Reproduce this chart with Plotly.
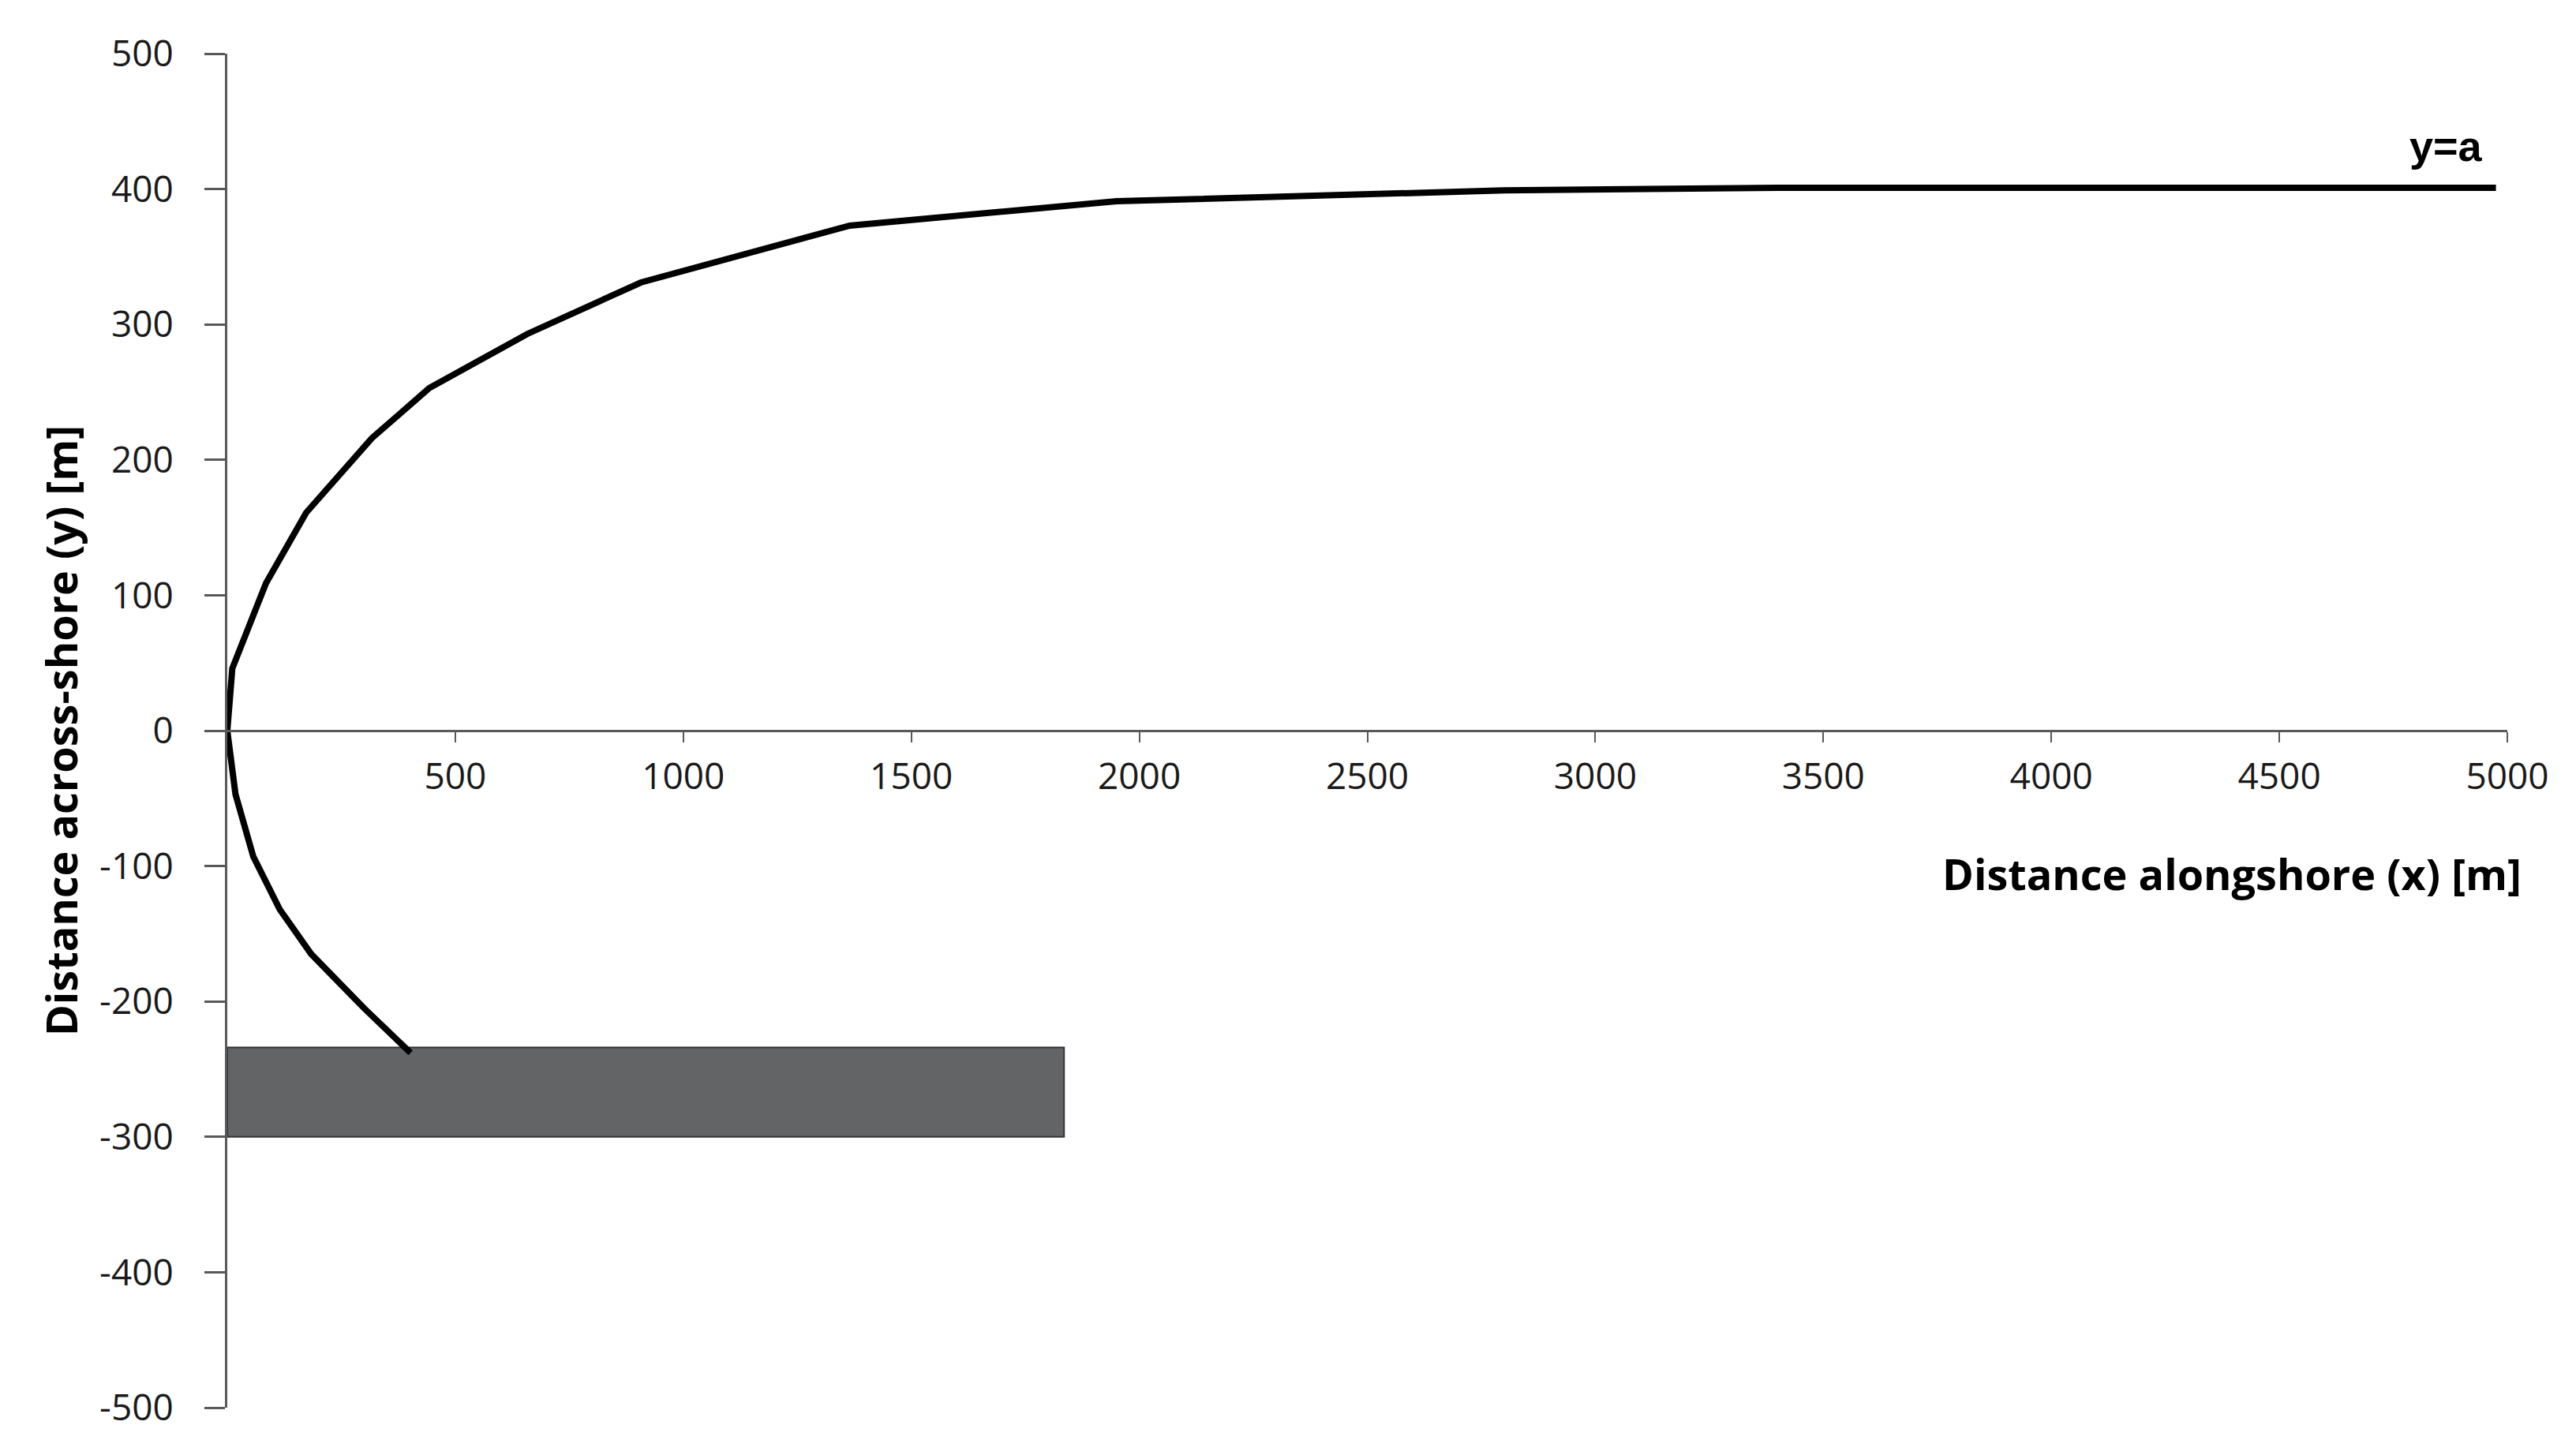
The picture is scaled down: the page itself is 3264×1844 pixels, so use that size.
import plotly.graph_objects as go

# ── data ─────────────────────────────────────────────────────────────────────
# shoreline (lower branch from the structure up to the origin, then the upper branch)
shore_x = [402, 300, 184, 115, 57, 18, 0, 11, 85, 173, 317, 443, 658, 907, 1365, 1950, 2800, 3400, 4975]
shore_y = [-238, -205, -165, -132, -93, -47, 0, 46, 109, 161, 216, 253, 293, 331, 373, 391, 399, 401, 401]

# structure (breakwater) outline
rect_x = [0, 1835, 1835, 0, 0]
rect_y = [-234, -234, -300, -300, -234]

x_ticks = [500, 1000, 1500, 2000, 2500, 3000, 3500, 4000, 4500, 5000]
y_ticks = [500, 400, 300, 200, 100, 0, -100, -200, -300, -400, -500]
y_labels = ["500", "400", "300", "200", "100", "0", "-100", "-200", "-300", "-400", "-500"]

AXIS = "#595959"
TXT = "#1a1a1a"
FONT = "Open Sans"

fig = go.Figure()

fig.add_trace(go.Scatter(
    x=rect_x, y=rect_y, mode="lines", fill="toself",
    fillcolor="#636466", line=dict(color="#333333", width=2),
    hoverinfo="skip", showlegend=False,
))

fig.add_trace(go.Scatter(
    x=shore_x, y=shore_y, mode="lines",
    line=dict(color="black", width=8),
    showlegend=False,
))

fig.add_annotation(
    x=4865, y=432, xref="x", yref="y", text="<b>y=a</b>", showarrow=False,
    font=dict(family="Liberation Sans", size=54, color="black"),
    xanchor="center", yanchor="middle",
)
fig.add_annotation(
    x=1.007, y=0.3945, xref="paper", yref="paper",
    text="<b>Distance alongshore (x) [m]</b>", showarrow=False,
    font=dict(family=FONT, size=54, color="black"),
    xanchor="right", yanchor="middle",
)
fig.add_annotation(
    x=-0.073, y=0.5, xref="paper", yref="paper", textangle=-90,
    text="<b>Distance across-shore (y) [m]</b>", showarrow=False,
    font=dict(family=FONT, size=54, color="black"),
    xanchor="center", yanchor="middle",
)

fig.update_layout(
    width=3264, height=1844,
    paper_bgcolor="white", plot_bgcolor="white",
    margin=dict(l=280, r=95, t=60, b=68),
    font=dict(family=FONT, size=46, color=TXT),
    xaxis=dict(
        range=[0, 5000], tickvals=x_ticks, showgrid=False, zeroline=False,
        showline=True, linecolor=AXIS, linewidth=3,
        ticks="outside", ticklen=13, tickwidth=2, tickcolor=AXIS,
        anchor="free", position=0.5, ticklabelstandoff=4,
        tickfont=dict(family=FONT, size=46, color=TXT),
    ),
    yaxis=dict(
        range=[-500, 500], tickvals=y_ticks, ticktext=y_labels,
        showgrid=False, zeroline=False,
        showline=True, linecolor=AXIS, linewidth=3,
        ticks="outside", ticklen=26, tickwidth=3, tickcolor=AXIS,
        ticklabelstandoff=30,
        tickfont=dict(family=FONT, size=46, color=TXT),
    ),
)

fig.write_html("out.html")
